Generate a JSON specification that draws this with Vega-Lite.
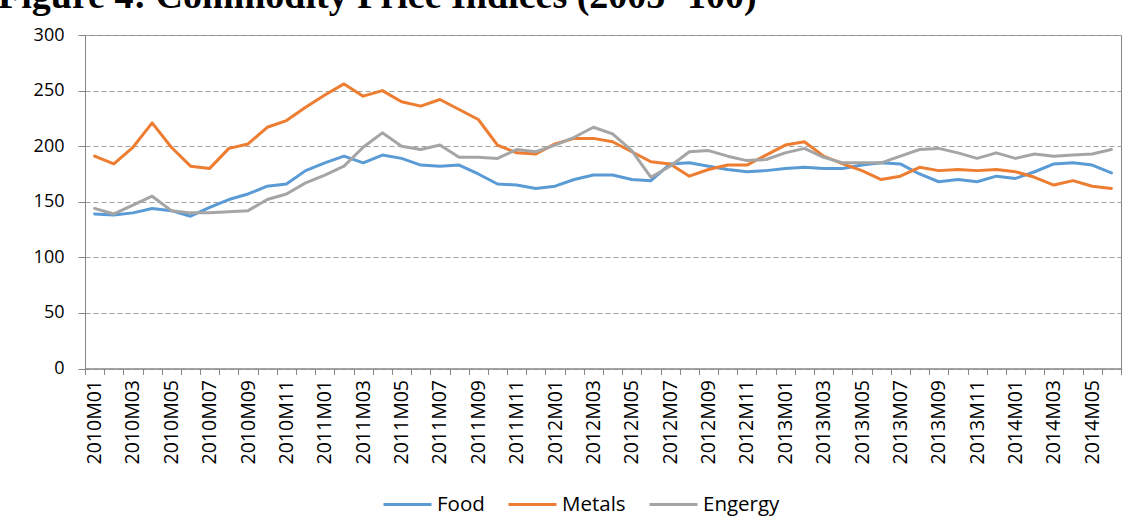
{
  "$schema": "https://vega.github.io/schema/vega-lite/v6.json",
  "width": 1036,
  "height": 333.5,
  "autosize": {"type": "none"},
  "padding": {"left": 85, "top": 35, "right": 12, "bottom": 161.5},
  "background": "white",
  "title": {
    "text": "Figure 4: Commodity Price Indices (2005=100)",
    "font": "Liberation Serif",
    "fontSize": 38,
    "fontWeight": "bold",
    "color": "black",
    "anchor": "start",
    "frame": "group",
    "baseline": "alphabetic",
    "offset": -20,
    "dx": -87
  },
  "config": {
    "view": {"stroke": "#868686", "strokeWidth": 1}
  },
  "data": {
    "values": [
      {"month": "2010M01", "Food": 139, "Metals": 191, "Engergy": 144},
      {"month": "2010M02", "Food": 138, "Metals": 184, "Engergy": 139},
      {"month": "2010M03", "Food": 140, "Metals": 199, "Engergy": 147},
      {"month": "2010M04", "Food": 144, "Metals": 221, "Engergy": 155},
      {"month": "2010M05", "Food": 142, "Metals": 199, "Engergy": 142},
      {"month": "2010M06", "Food": 137, "Metals": 182, "Engergy": 140},
      {"month": "2010M07", "Food": 145, "Metals": 180, "Engergy": 140},
      {"month": "2010M08", "Food": 152, "Metals": 198, "Engergy": 141},
      {"month": "2010M09", "Food": 157, "Metals": 202, "Engergy": 142},
      {"month": "2010M10", "Food": 164, "Metals": 217, "Engergy": 152},
      {"month": "2010M11", "Food": 166, "Metals": 223, "Engergy": 157},
      {"month": "2010M12", "Food": 178, "Metals": 235, "Engergy": 167},
      {"month": "2011M01", "Food": 185, "Metals": 246, "Engergy": 174},
      {"month": "2011M02", "Food": 191, "Metals": 256, "Engergy": 182},
      {"month": "2011M03", "Food": 185, "Metals": 245, "Engergy": 199},
      {"month": "2011M04", "Food": 192, "Metals": 250, "Engergy": 212},
      {"month": "2011M05", "Food": 189, "Metals": 240, "Engergy": 200},
      {"month": "2011M06", "Food": 183, "Metals": 236, "Engergy": 197},
      {"month": "2011M07", "Food": 182, "Metals": 242, "Engergy": 201},
      {"month": "2011M08", "Food": 183, "Metals": 233, "Engergy": 190},
      {"month": "2011M09", "Food": 175, "Metals": 224, "Engergy": 190},
      {"month": "2011M10", "Food": 166, "Metals": 201, "Engergy": 189},
      {"month": "2011M11", "Food": 165, "Metals": 194, "Engergy": 197},
      {"month": "2011M12", "Food": 162, "Metals": 193, "Engergy": 195},
      {"month": "2012M01", "Food": 164, "Metals": 202, "Engergy": 201},
      {"month": "2012M02", "Food": 170, "Metals": 207, "Engergy": 208},
      {"month": "2012M03", "Food": 174, "Metals": 207, "Engergy": 217},
      {"month": "2012M04", "Food": 174, "Metals": 204, "Engergy": 211},
      {"month": "2012M05", "Food": 170, "Metals": 195, "Engergy": 196},
      {"month": "2012M06", "Food": 169, "Metals": 186, "Engergy": 172},
      {"month": "2012M07", "Food": 184, "Metals": 184, "Engergy": 182},
      {"month": "2012M08", "Food": 185, "Metals": 173, "Engergy": 195},
      {"month": "2012M09", "Food": 182, "Metals": 179, "Engergy": 196},
      {"month": "2012M10", "Food": 179, "Metals": 183, "Engergy": 191},
      {"month": "2012M11", "Food": 177, "Metals": 183, "Engergy": 187},
      {"month": "2012M12", "Food": 178, "Metals": 192, "Engergy": 188},
      {"month": "2013M01", "Food": 180, "Metals": 201, "Engergy": 194},
      {"month": "2013M02", "Food": 181, "Metals": 204, "Engergy": 198},
      {"month": "2013M03", "Food": 180, "Metals": 191, "Engergy": 190},
      {"month": "2013M04", "Food": 180, "Metals": 184, "Engergy": 185},
      {"month": "2013M05", "Food": 183, "Metals": 178, "Engergy": 185},
      {"month": "2013M06", "Food": 185, "Metals": 170, "Engergy": 185},
      {"month": "2013M07", "Food": 184, "Metals": 173, "Engergy": 191},
      {"month": "2013M08", "Food": 175, "Metals": 181, "Engergy": 197},
      {"month": "2013M09", "Food": 168, "Metals": 178, "Engergy": 198},
      {"month": "2013M10", "Food": 170, "Metals": 179, "Engergy": 194},
      {"month": "2013M11", "Food": 168, "Metals": 178, "Engergy": 189},
      {"month": "2013M12", "Food": 173, "Metals": 179, "Engergy": 194},
      {"month": "2014M01", "Food": 171, "Metals": 177, "Engergy": 189},
      {"month": "2014M02", "Food": 177, "Metals": 172, "Engergy": 193},
      {"month": "2014M03", "Food": 184, "Metals": 165, "Engergy": 191},
      {"month": "2014M04", "Food": 185, "Metals": 169, "Engergy": 192},
      {"month": "2014M05", "Food": 183, "Metals": 164, "Engergy": 193},
      {"month": "2014M06", "Food": 176, "Metals": 162, "Engergy": 197}
    ]
  },
  "transform": [
    {"fold": ["Food", "Metals", "Engergy"], "as": ["series", "value"]}
  ],
  "mark": {"type": "line", "strokeWidth": 3, "strokeJoin": "round", "strokeCap": "round"},
  "encoding": {
    "x": {
      "field": "month",
      "type": "ordinal",
      "sort": null,
      "scale": {"type": "band", "paddingInner": 0, "paddingOuter": 0},
      "axis": {
        "title": null,
        "tickBand": "extent",
        "labelAngle": -90,
        "labelAlign": "right",
        "labelBaseline": "middle",
        "labelFont": "Open Sans",
        "labelFontSize": 19.5,
        "labelColor": "#000000",
        "labelPadding": 5,
        "labelOverlap": false,
        "labelExpr": "indexof(['01','03','05','07','09','11'], slice('' + datum.label, 5)) >= 0 ? datum.label : ''",
        "tickColor": "#868686",
        "tickSize": 6,
        "domainColor": "#868686",
        "grid": false
      }
    },
    "y": {
      "field": "value",
      "type": "quantitative",
      "scale": {"domain": [0, 300], "nice": false},
      "axis": {
        "title": null,
        "values": [0, 50, 100, 150, 200, 250, 300],
        "grid": true,
        "gridDash": [5, 3],
        "gridColor": "#a0a0a0",
        "domainColor": "#868686",
        "tickColor": "#868686",
        "tickSize": 7,
        "labelPadding": 14,
        "labelFont": "Open Sans",
        "labelFontSize": 18,
        "labelColor": "#000000"
      }
    },
    "color": {
      "field": "series",
      "type": "nominal",
      "scale": {"domain": ["Food", "Metals", "Engergy"], "range": ["#5B9BD5", "#ED7D31", "#A5A5A5"]},
      "legend": {
        "title": null,
        "orient": "none",
        "legendX": 297,
        "legendY": 444,
        "direction": "horizontal",
        "symbolType": "stroke",
        "symbolSize": 2304,
        "symbolStrokeWidth": 3,
        "labelFont": "Open Sans",
        "labelFontSize": 20.5,
        "labelColor": "#000000",
        "labelOffset": 4,
        "columnPadding": 17
      }
    }
  }
}
